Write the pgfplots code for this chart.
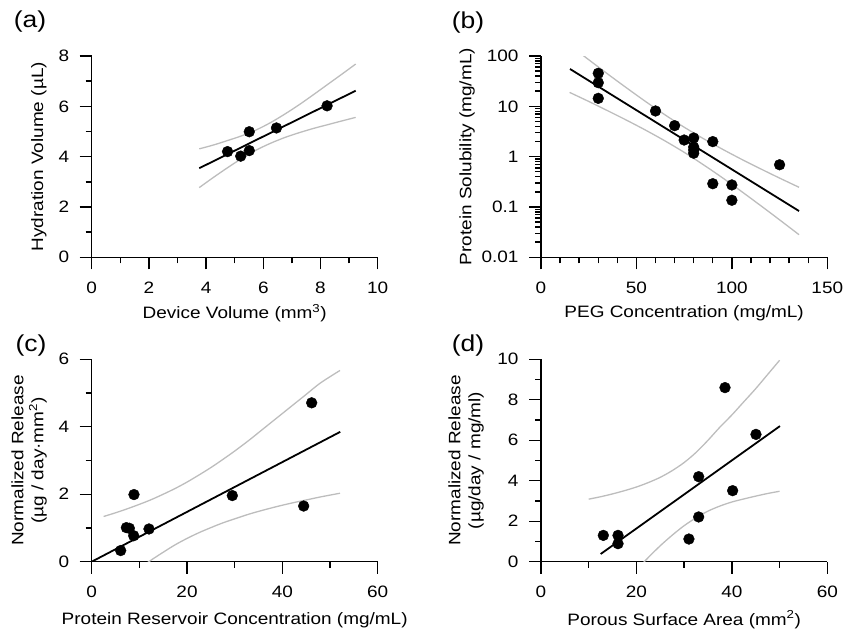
\documentclass[border=0pt]{standalone}
\usepackage{fontspec}
\setmainfont{Liberation Sans}[FakeStretch=1.15]
\usepackage{pgfplots}
\pgfplotsset{compat=1.18}
\definecolor{cigray}{HTML}{BDBDBD}
\pgfplotsset{
  panel/.style={
    scale only axis, anchor=south west,
    axis lines=left, axis line style={-, line width=1.4pt},
    tick align=outside, major tick length=12pt, minor tick length=6pt,
    every tick/.style={black, line width=1.4pt},
    /pgf/number format/assume math mode=true,
    tick label style={font=\fontsize{16.5}{19}\selectfont},
    xticklabel style={yshift=-9pt},
    yticklabel style={xshift=-7pt},
    label style={font=\fontsize{16.5}{20}\selectfont},
  },
  fitline/.style={black, line width=1.8pt, no marks},
  ciline/.style={cigray, line width=1.3pt, no marks, smooth},
  dots/.style={only marks, mark=*, mark size=5.4pt, black},
}
\begin{document}
\begin{tikzpicture}
\path[use as bounding box] (0,0) rectangle (843pt,631pt);
% ---------------- (a)
\begin{axis}[panel, at={(91.7pt,373.7pt)}, width=286pt, height=201.3pt,
  xmin=0, xmax=10, ymin=0, ymax=8,
  xtick={0,2,...,10}, ytick={0,2,...,8}, minor tick num=1,
  xlabel={Device Volume (mm\textsuperscript{3})},
  ylabel={Hydration Volume (µL)},
  xlabel style={at={(axis description cs:0.5,-0.278)}, anchor=center},
  ylabel style={at={(axis description cs:-0.185,0.5)}, anchor=center},
]
\addplot[ciline] coordinates {(3.76,4.31)(4.25,4.46)(4.75,4.64)(5.25,4.83)(5.75,5.06)(6.25,5.35)(6.75,5.69)(7.25,6.06)(7.75,6.46)(8.25,6.87)(8.75,7.28)(9.23,7.68)};
\addplot[ciline] coordinates {(3.76,2.77)(4.25,3.17)(4.75,3.56)(5.25,3.93)(5.75,4.26)(6.25,4.53)(6.75,4.76)(7.25,4.95)(7.75,5.12)(8.25,5.27)(8.75,5.42)(9.23,5.56)};
\addplot[fitline] coordinates {(3.76,3.54)(9.23,6.62)};
\addplot[dots] coordinates {(4.75,4.20)(5.21,4.02)(5.51,4.99)(5.51,4.24)(6.46,5.14)(8.23,6.02)};
\end{axis}
% ---------------- (b)
\begin{axis}[panel, at={(541pt,373.7pt)}, width=286.3pt, height=201.3pt,
  ymode=log, xmin=0, xmax=150, ymin=0.01, ymax=100,
  xtick={0,50,100,150}, minor xtick={10,20,30,40,60,70,80,90,110,120,130,140},
  ytick={0.01,0.1,1,10,100}, yticklabels={0.01,0.1,1,10,100},
  xlabel={PEG Concentration (mg/mL)},
  ylabel={Protein Solubility (mg/mL)},
  xlabel style={at={(axis description cs:0.5,-0.278)}, anchor=center},
  ylabel style={at={(axis description cs:-0.258,0.5)}, anchor=center},
]
\addplot[ciline] coordinates {(15,164.8)(25,84.4)(35,43.7)(45,23.0)(55,12.3)(65,6.76)(75,3.85)(85,2.29)(95,1.41)(105,0.889)(115,0.574)(125,0.375)(135.2,0.246)};
\addplot[ciline] coordinates {(15,18.9)(25,12.5)(35,8.15)(45,5.26)(55,3.33)(65,2.05)(75,1.22)(85,0.694)(95,0.382)(105,0.204)(115,0.107)(125,0.0555)(135.2,0.0281)};
\addplot[fitline] coordinates {(15.2,55.2)(135.2,0.083)};
\addplot[dots] coordinates {(30,45.3)(30,29.5)(30,14.4)(60,8.08)(70,4.13)(75,2.14)(80,2.35)(80,1.55)(80,1.35)(80,1.17)(90,1.99)(90,0.29)(100,0.274)(100,0.136)(125,0.69)};
\end{axis}
% ---------------- (c)
\begin{axis}[panel, at={(91.7pt,69.3pt)}, width=286pt, height=202.4pt,
  xmin=0, xmax=60, ymin=0, ymax=6,
  xtick={0,20,40,60}, ytick={0,2,4,6}, minor tick num=1,
  xlabel={Protein Reservoir Concentration (mg/mL)},
  ylabel={Normalized Release\\(µg / day·mm\textsuperscript{2})},
  xlabel style={at={(axis description cs:0.5,-0.287)}, anchor=center},
  ylabel style={at={(axis description cs:-0.219,0.5)}, anchor=center, align=center},
]
\addplot[ciline] coordinates {(2.5,1.34)(5,1.45)(7.5,1.57)(10,1.70)(12.5,1.84)(15,2.00)(17.5,2.17)(20,2.36)(22.5,2.57)(25,2.79)(27.5,3.03)(30,3.28)(33,3.60)(36,3.94)(39,4.28)(42,4.62)(45,4.96)(48,5.30)(52.1,5.67)};
\addplot[ciline] coordinates {(2.5,-0.97)(5,-0.71)(7.5,-0.45)(10,-0.20)(12.5,0.05)(15,0.28)(17.5,0.50)(20,0.69)(22.5,0.86)(25,1.01)(27.5,1.15)(30,1.27)(33,1.41)(36,1.53)(39,1.64)(42,1.74)(45,1.83)(48,1.92)(52.1,2.03)};
\addplot[fitline] coordinates {(0,0)(52.15,3.85)};
\addplot[dots] coordinates {(6.08,0.33)(7.27,1.01)(7.90,0.99)(8.81,0.77)(8.87,1.99)(12.02,0.97)(29.5,1.96)(44.47,1.65)(46.15,4.71)};
\end{axis}
% ---------------- (d)
\begin{axis}[panel, at={(541pt,69.3pt)}, width=286.3pt, height=202.4pt,
  xmin=0, xmax=60, ymin=0, ymax=10,
  xtick={0,20,40,60}, ytick={0,2,...,10}, minor tick num=1,
  xlabel={Porous Surface Area (mm\textsuperscript{2})},
  ylabel={Normalized Release\\(µg/day / mg/ml)},
  xlabel style={at={(axis description cs:0.5,-0.287)}, anchor=center},
  ylabel style={at={(axis description cs:-0.262,0.5)}, anchor=center, align=center},
]
\addplot[ciline] coordinates {(10,3.09)(12.5,3.21)(15,3.35)(17.5,3.51)(20,3.69)(22.5,3.91)(25,4.17)(27.5,4.50)(30,4.90)(32.5,5.40)(35,6.00)(37.5,6.65)(40,7.25)(42.5,7.90)(45,8.55)(47.5,9.25)(50,9.95)};
\addplot[ciline] coordinates {(10,-3.17)(12.5,-2.45)(15,-1.75)(17.5,-1.07)(20,-0.41)(22.5,0.21)(25,0.79)(27.5,1.31)(30,1.78)(32.5,2.17)(35,2.50)(37.5,2.75)(40,2.95)(42.5,3.10)(45,3.24)(47.5,3.37)(50,3.48)};
\addplot[fitline] coordinates {(12.5,0.38)(50.08,6.70)};
\addplot[dots] coordinates {(13.06,1.30)(16.14,1.30)(16.14,0.89)(31.0,1.12)(33.04,4.20)(33.04,2.21)(38.56,8.60)(40.16,3.51)(45.05,6.29)};
\end{axis}
% panel letters
\node[font=\fontsize{23}{27}\selectfont] at (30pt,609pt) {(a)};
\node[font=\fontsize{23}{27}\selectfont] at (468pt,608pt) {(b)};
\node[font=\fontsize{23}{27}\selectfont] at (31pt,285pt) {(c)};
\node[font=\fontsize{23}{27}\selectfont] at (468pt,285pt) {(d)};
\end{tikzpicture}
\end{document}
